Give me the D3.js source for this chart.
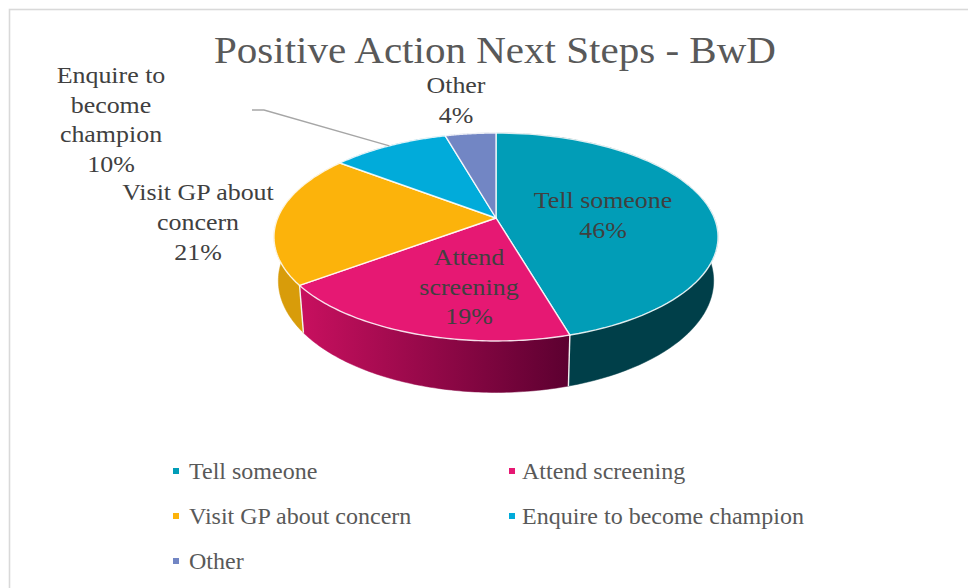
<!DOCTYPE html>
<html><head><meta charset="utf-8">
<script src="https://cdn.jsdelivr.net/npm/d3@7/dist/d3.min.js"></script>
<style>html,body{margin:0;padding:0;background:#fff}svg{display:block}text{font-family:"Liberation Serif",serif}</style>
</head><body><svg id="c" width="968" height="588"></svg>
<script>
const categories = ["Tell someone","Attend screening","Visit GP about concern","Enquire to become champion","Other"];
const values = [45.5,19.3,20.6,10.2,4.4];
const percentLabels = ["46%","19%","21%","10%","4%"];
const labelLines = [["Tell someone"],["Attend","screening"],["Visit GP about","concern"],["Enquire to","become","champion"],["Other"]];
const topColors = ["#019DB7","#E61873","#FCB30B","#01ABDA","#7286C4"];
const title = "Positive Action Next Steps - BwD";

const labelPos = [[603,208],[469,265],[198,200],[111,83],[456,93]];
const lineStep = [30,29.5,30,29.5,30];
const legendPos = [[173,471],[509,471],[173,516],[509,516],[173,561]];

const svg = d3.select("#c");
const defs = svg.append("defs");
svg.append("rect").attr("x",9.5).attr("y",9.5).attr("width",1100).attr("height",1100)
   .attr("fill","#fff").attr("stroke","#d9d9d9").attr("stroke-width",1.6);

const k=0.1827;
const topDisc={cx:496,cy:218,A:218.3,B:100.5};
const lowDisc={cx:496,cy:260.3,A:214,B:108};
const project=(disc,t)=>{const u=Math.sin(t),v=-Math.cos(t),w=1-k*v;return [disc.cx+disc.A*u/w,disc.cy+disc.B*v/w];};
const arcs=d3.pie().sort(null).value(d=>d)(values);
const sample=(a,disc)=>d3.range(0,81).map(i=>project(disc,a.startAngle+(a.endAngle-a.startAngle)*i/80));
const line=d3.line();

const grad=defs.append("linearGradient").attr("id","pinkWall").attr("gradientUnits","userSpaceOnUse")
  .attr("x1",300).attr("x2",570).attr("y1",0).attr("y2",0);
grad.append("stop").attr("offset",0).attr("stop-color","#C8105F");
grad.append("stop").attr("offset",1).attr("stop-color","#5C0030");
const wallFill=["#003F49","url(#pinkWall)","#D89C0A","#0085AA","#56669A"];

// side walls
svg.append("g").selectAll("path").data(arcs).join("path")
  .attr("d",a=>line([...sample(a,topDisc),...sample(a,lowDisc).reverse()])+"Z")
  .attr("fill",(a,i)=>wallFill[i]).attr("stroke",(a,i)=>wallFill[i]).attr("stroke-width",.5);
// wall seams
svg.append("g").selectAll("line").data(arcs.filter((a,i)=>i<2)).join("line")
  .each(function(a){const p=project(topDisc,a.endAngle),q=project(lowDisc,a.endAngle);
    d3.select(this).attr("x1",p[0]).attr("y1",p[1]).attr("x2",q[0]).attr("y2",q[1]);})
  .attr("stroke","#f2f2f2").attr("stroke-width",1.4);
// top faces
svg.append("g").selectAll("path").data(arcs).join("path")
  .attr("d",a=>line([[topDisc.cx,topDisc.cy],...sample(a,topDisc)])+"Z")
  .attr("fill",(a,i)=>topColors[i]).attr("stroke","#fff").attr("stroke-opacity",.85).attr("stroke-width",1.4).attr("stroke-linejoin","round");

// leader
const leader=d3.line();
const p3=project(topDisc,(arcs[3].startAngle+arcs[3].endAngle)/2);
svg.append("path").attr("d",leader([[252,110],[264,110],p3])).attr("fill","none").attr("stroke","#a6a6a6").attr("stroke-width",1.3);

// text helper: stretch natural width to the wider reference face
function put(sel,x,y,str,size,color,factor,anchor){
  const t=sel.append("text").attr("x",x).attr("y",y).attr("font-size",size).attr("fill",color).attr("text-anchor",anchor).text(str);
  const L=t.node().getComputedTextLength();
  t.attr("textLength",L*factor).attr("lengthAdjust","spacingAndGlyphs");
  return t;
}
put(svg,495,63,title,38,"#595959",1.08,"middle");

const labels=svg.append("g");
categories.forEach((c,i)=>{
  const lines=[...labelLines[i],percentLabels[i]];
  lines.forEach((l,j)=>put(labels,labelPos[i][0],labelPos[i][1]+j*lineStep[i],l,24,"#404040",1.08,"middle"));
});

const leg=svg.append("g");
categories.forEach((c,i)=>{
  const [x,y]=legendPos[i];
  leg.append("rect").attr("x",x).attr("y",y-3).attr("width",6).attr("height",6).attr("fill",topColors[i]);
  put(leg,x+(i%2?13:16),y+8,c,24,"#595959",1.0,"start");
});
</script></body></html>
